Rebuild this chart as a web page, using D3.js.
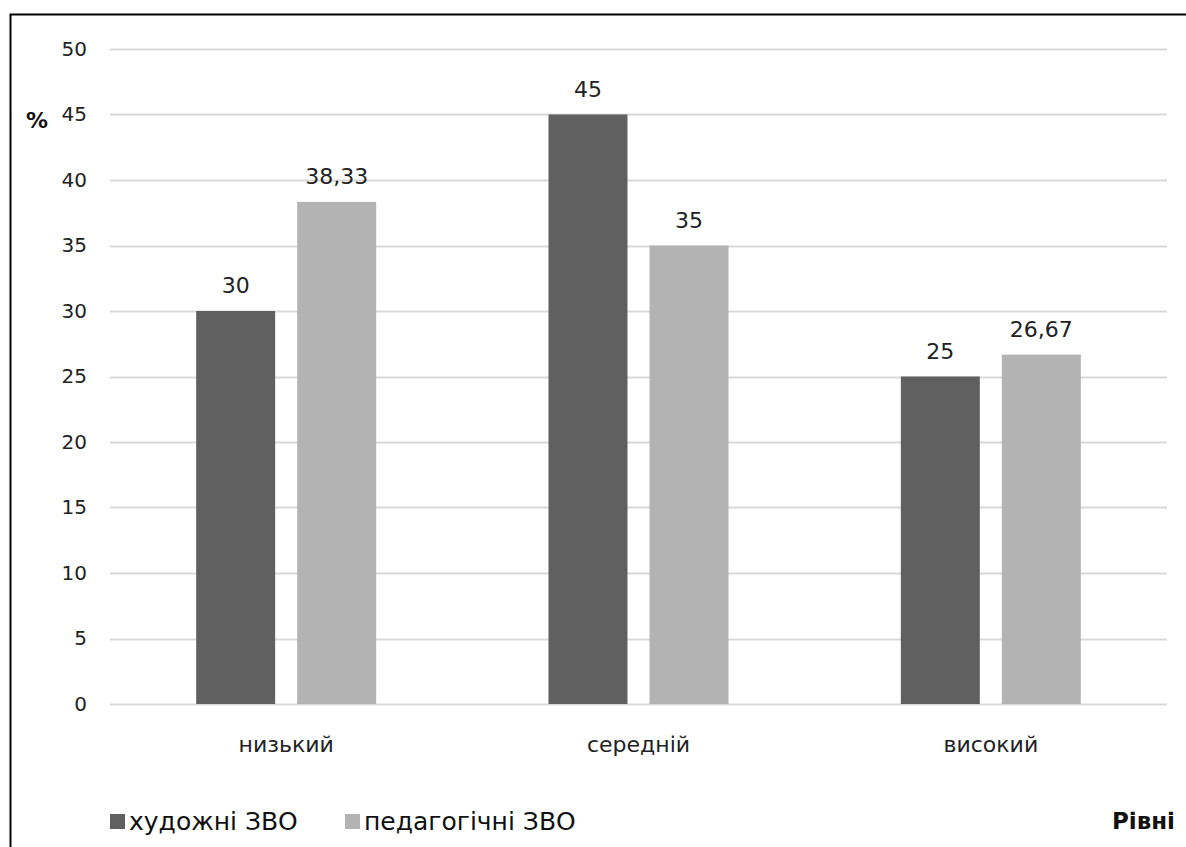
<!DOCTYPE html>
<html>
<head>
<meta charset="utf-8">
<script src="https://cdn.jsdelivr.net/npm/d3@7"></script>
<style>
  html, body { margin: 0; padding: 0; background: #fff; }
  svg { display: block; font-family: "DejaVu Sans", sans-serif; }
</style>
</head>
<body>
<svg id="chart" width="1186" height="847"></svg>
<script>
// Levels and the share (%) of students at each level
const categories = ["низький", "середній", "високий"];
const seriesNames = ["художні ЗВО", "педагогічні ЗВО"];
const artValues = [30, 45, 25];
const pedValues = [38.33, 35, 26.67];
const yTicks = [0, 5, 10, 15, 20, 25, 30, 35, 40, 45, 50];
const colors = ["#606060", "#b3b3b3"];

const FONT = "'DejaVu Sans', sans-serif";
const svg = d3.select("#chart");
const W = 1186, H = 847;

// Outer frame (runs past the right and bottom edges)
svg.append("rect")
  .attr("x", 10.5).attr("y", 14.5)
  .attr("width", W + 20).attr("height", H + 20)
  .attr("fill", "none").attr("stroke", "#000").attr("stroke-width", 2);

const plot = { left: 110, right: 1167, top: 49, bottom: 704 };

const x0 = d3.scaleBand().domain(categories).range([plot.left, plot.right]);
const x1 = d3.scaleBand().domain(seriesNames).range([0, x0.bandwidth()])
  .paddingInner(0.218).paddingOuter(0.853);
const y = d3.scaleLinear().domain([0, 50]).range([plot.bottom, plot.top]);

// Gridlines
svg.append("g").selectAll("line").data(yTicks).join("line")
  .attr("x1", plot.left).attr("x2", plot.right)
  .attr("y1", d => Math.round(y(d)) + 0.5).attr("y2", d => Math.round(y(d)) + 0.5)
  .attr("stroke", "#d9d9d9").attr("stroke-width", 2);

// Y axis labels
const yAxis = d3.axisLeft(y).tickValues(yTicks).tickSize(0).tickPadding(0);
svg.append("g").attr("transform", `translate(${plot.left - 23},0)`)
  .call(yAxis)
  .call(g => g.select(".domain").remove())
  .call(g => g.attr("font-family", FONT).attr("font-size", 20))
  .call(g => g.selectAll("text").attr("fill", "#222"));

// Bars
const rows = categories.map((c, i) => ({ cat: c, vals: [artValues[i], pedValues[i]] }));
const groups = svg.append("g").selectAll("g").data(rows).join("g")
  .attr("transform", d => `translate(${x0(d.cat)},0)`);

const cells = d => d.vals.map((v, j) => ({ s: seriesNames[j], v, j }));

groups.selectAll("rect").data(cells).join("rect")
  .attr("x", d => x1(d.s)).attr("width", x1.bandwidth())
  .attr("y", d => y(d.v)).attr("height", d => y(0) - y(d.v))
  .attr("fill", d => colors[d.j]);

// Value labels
const fmt = v => String(v).replace(".", ",");
groups.selectAll("text").data(cells).join("text")
  .attr("x", d => x1(d.s) + x1.bandwidth() / 2)
  .attr("y", d => y(d.v) - 18)
  .attr("text-anchor", "middle").attr("font-size", 22).attr("fill", "#222")
  .text(d => fmt(d.v));

// Category labels
const xAxis = d3.axisBottom(x0).tickSize(0).tickPadding(0);
svg.append("g").attr("transform", `translate(0,${plot.bottom + 48})`)
  .call(xAxis)
  .call(g => g.select(".domain").remove())
  .call(g => g.attr("font-family", FONT).attr("font-size", 22))
  .call(g => g.selectAll("text").attr("fill", "#222").attr("dy", "0"));

// Axis titles
svg.append("text").attr("x", 26).attr("y", 128)
  .attr("font-size", 22).attr("font-weight", "bold").attr("fill", "#111").text("%");
svg.append("text").attr("x", 1175).attr("y", 829).attr("text-anchor", "end")
  .attr("font-size", 23).attr("font-weight", "bold").attr("fill", "#111").text("Рівні");

// Legend
const legendX = [110, 345];
const legend = svg.append("g").selectAll("g").data(seriesNames).join("g")
  .attr("transform", (d, i) => `translate(${legendX[i]},814)`);
legend.append("rect").attr("width", 15).attr("height", 15).attr("fill", (d, i) => colors[i]);
legend.append("text").attr("x", 19).attr("y", 16)
  .attr("font-size", 25).attr("fill", "#111").text(d => d);
</script>
</body>
</html>
